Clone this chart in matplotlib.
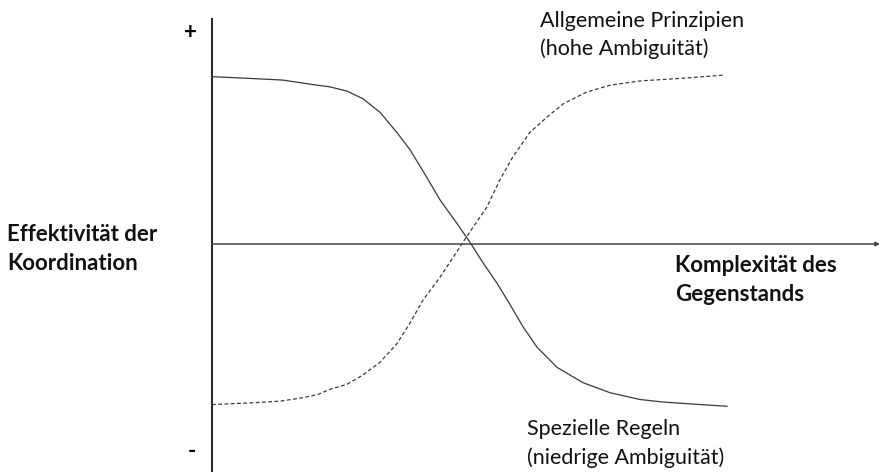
import matplotlib.pyplot as plt

# complexity (0..10) vs effectiveness (-1..1)
rules_x = [0.02, 0.74, 1.38, 2.04, 2.29, 2.62, 2.93, 3.26, 3.59, 3.84, 4.10, 4.43, 4.76,
           5.01, 5.26, 5.53, 5.79, 6.04, 6.31, 6.70, 7.20, 7.73, 8.31, 8.76, 9.48, 10.0]
rules_y = [0.99, 0.98, 0.97, 0.94, 0.93, 0.905, 0.86, 0.78, 0.66, 0.56, 0.43, 0.26, 0.12,
           0.01, -0.11, -0.23, -0.36, -0.49, -0.61, -0.73, -0.82, -0.88, -0.92, -0.935, -0.95, -0.96]

principles_x = [0.0, 0.74, 1.32, 1.75, 2.06, 2.29, 2.62, 2.93, 3.26, 3.59, 3.84, 4.10, 4.43, 4.68,
                4.87, 5.07, 5.34, 5.59, 5.84, 6.17, 6.50, 6.82, 7.28, 7.73, 8.31, 9.09, 9.96]
principles_y = [-0.95, -0.94, -0.93, -0.91, -0.89, -0.86, -0.83, -0.775, -0.70, -0.59, -0.47, -0.33,
                -0.195, -0.08, 0.01, 0.10, 0.22, 0.38, 0.515, 0.66, 0.75, 0.83, 0.90, 0.94, 0.965, 0.98, 1.0]

label_principles = ['Allgemeine Prinzipien', '(hohe Ambiguität)']
label_rules = ['Spezielle Regeln', '(niedrige Ambiguität)']
label_y = ['Effektivität der', 'Koordination']
label_x = ['Komplexität des', 'Gegenstands']

plt.rcParams['font.family'] = ['Lato', 'DejaVu Sans']
W, H = 881, 472
fig = plt.figure(figsize=(W / 100, H / 100), dpi=100)
ax = fig.add_axes([0, 0, 1, 1])
ax.axis('off')
ax.set_xlim(-4.117, 12.99)
ax.set_ylim(-1.349, 1.444)

# axes of the diagram
ax.plot([0, 0], [-1.349, 1.337], color='black', lw=1.2, solid_capstyle='butt')
ax.annotate('', xy=(12.97, 0), xytext=(0, 0),
            arrowprops=dict(arrowstyle='-|>', lw=1.1, color='#444444',
                            mutation_scale=6, shrinkA=0, shrinkB=0))

# curves
ax.plot(rules_x, rules_y, color='#3a3a3a', lw=0.9)
ax.plot(principles_x, principles_y, color='#3a3a3a', lw=0.9, linestyle=(0, (3, 2)))


def put(lines, x, y0, step, **kw):
    # place each line by its baseline, pixel positions
    for i, s in enumerate(lines):
        fig.text(x / W, 1 - (y0 + i * step) / H, s, va='baseline', ha='left',
                 color='#111111', **kw)


fs = 15.5
fb = 16
put(label_principles, 540, 27, 28, fontsize=fs)
put(label_rules, 527, 435, 29, fontsize=fs)
put(label_y, 7, 241, 29, fontsize=fb, fontweight='bold')
put(label_x, 675, 272, 29, fontsize=fb, fontweight='bold')

fig.text(190 / W, 1 - 39 / H, '+', fontsize=fb, fontweight='bold', ha='center', va='baseline')
fig.text(192 / W, 1 - 458 / H, '-', fontsize=fb, fontweight='bold', ha='center', va='baseline')

fig.savefig('out.png', dpi=100, facecolor='white')
